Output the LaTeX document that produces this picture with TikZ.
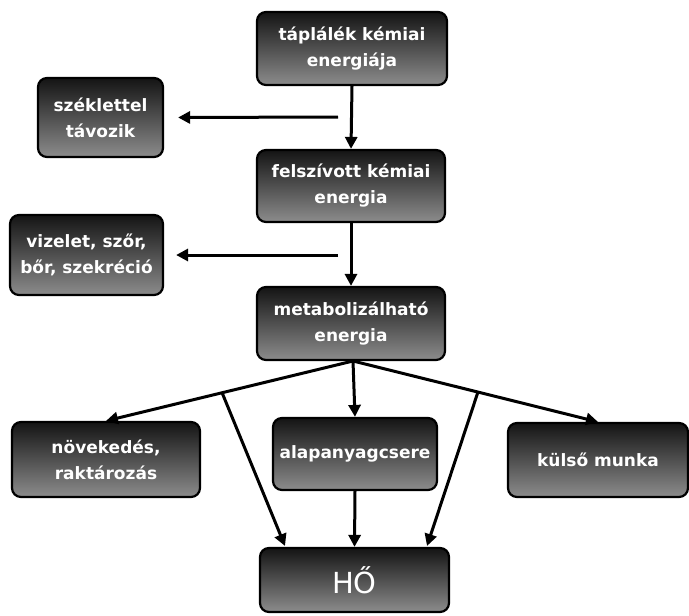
\documentclass[tikz,border=0pt]{standalone}
\usepackage{fontspec}
\setmainfont{DejaVu Sans}
\usetikzlibrary{arrows.meta,calc}
\definecolor{boxtop}{HTML}{141414}
\definecolor{boxbot}{HTML}{8C8C8C}
\begin{document}
\begin{tikzpicture}[x=1pt,y=-1pt,
  box/.style={draw=black, line width=2.2pt, rounded corners=9pt,
    top color=boxtop, bottom color=boxbot, text=white,
    font=\bfseries\fontsize{17}{26}\selectfont, align=center, inner sep=0pt},
  arr/.style={line width=3pt, -{Triangle[length=12pt,width=12pt]}},
  ln/.style={line width=3pt}]
\useasboundingbox (0,0) rectangle (689,616);

\node[box, minimum width=190pt, minimum height=73pt] (tap) at (352,48.5) {táplálék kémiai\\energiája};
\node[box, minimum width=125pt, minimum height=79pt] (szek) at (100.5,117.5) {széklettel\\távozik};
\node[box, minimum width=188pt, minimum height=72pt] (fel) at (351,186) {felszívott kémiai\\energia};
\node[box, minimum width=153pt, minimum height=80pt] (viz) at (86.5,255) {vizelet, szőr,\\bőr, szekréció};
\node[box, minimum width=188pt, minimum height=73pt] (met) at (351,323.5) {metabolizálható\\energia};
\node[box, minimum width=188pt, minimum height=75pt] (nov) at (106,459.5) {növekedés,\\raktározás};
\node[box, minimum width=164pt, minimum height=72pt] (alap) at (355,454) {alapanyagcsere};
\node[box, minimum width=180pt, minimum height=74pt] (kul) at (598,460) {külső munka};
\node[box, minimum width=189pt, minimum height=64pt, font=\fontsize{29}{34}\selectfont] (ho) at (354.5,580) {HŐ};

% top chain
\draw[arr] (tap.south) -- (fel.north);
\draw[arr] (fel.south) -- (met.north);
\coordinate (s1) at (338,117);
\coordinate (s1e) at ($(szek.east)+(14,0)$);
\draw[arr] (s1) -- (s1e);
\coordinate (s2) at (338,255);
\coordinate (s2e) at ($(viz.east)+(12,0)$);
\draw[arr] (s2) -- (s2e);

% fan-out
\coordinate (hub) at (353,361);
\draw[arr] (hub) -- (nov.north);
\draw[arr] (hub) -- (kul.north);
\draw[arr] (hub) -- (alap.north);
\coordinate (bl) at ($(hub)!0.53!(nov.north)$);
\coordinate (br) at ($(hub)!0.51!(kul.north)$);
\coordinate (hl) at (285,546);
\coordinate (hr) at (427,546);
\draw[arr] (bl) -- (hl);
\draw[arr] (br) -- (hr);
\draw[arr] (alap.south) -- (ho.north);
\end{tikzpicture}
\end{document}
